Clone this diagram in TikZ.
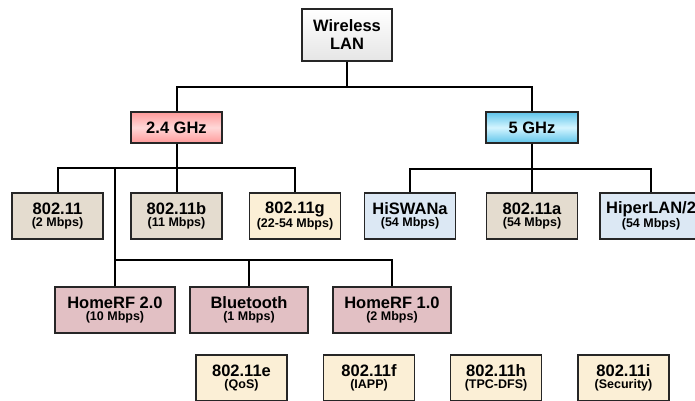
\documentclass[tikz,border=0pt]{standalone}
\usepackage{fontspec}
\setmainfont{Liberation Sans}[BoldFont={Liberation Sans Bold}]

\definecolor{stone}{HTML}{E4DCCF}
\definecolor{cream}{HTML}{FBEFD6}
\definecolor{iceblue}{HTML}{DCE8F4}
\definecolor{mauve}{HTML}{E2C0C4}
\definecolor{rosetop}{HTML}{FF9A9A}
\definecolor{rosemid}{HTML}{FFD8D8}
\definecolor{skytop}{HTML}{5EC4EA}
\definecolor{skymid}{HTML}{D4F5FF}

\newcommand{\stdlabel}[2]{{\fontsize{16.5}{14}\selectfont #1}\\{\fontsize{12.5}{14}\selectfont #2}}

\tikzset{
    std/.style={shape=rectangle, draw=black!85, line width=1.2pt, minimum width=91pt,
        minimum height=46pt, inner sep=0pt, align=center, font=\bfseries},
    band/.style={shape=rectangle, draw=black!85, line width=1.2pt, minimum width=91pt,
        minimum height=31pt, inner sep=0pt, font=\bfseries\fontsize{16.5}{18}\selectfont},
    link/.style={line width=2pt, black},
}

\begin{document}
\begin{tikzpicture}[x=1pt, y=-1pt]
    
    \useasboundingbox (0,0) rectangle (695,400);
    \clip (0,0) rectangle (695,400);
    
    % root and bands
    \node[std, minimum width=90pt, minimum height=52pt, top color=white, bottom color=black!10,
        font=\bfseries\fontsize{16.5}{18}\selectfont] (wlan) at (347,35) {Wireless\\LAN};
    \node[band, top color=rosetop, bottom color=rosetop, middle color=rosemid] (ghz24) at (176.5,127.5) {2.4 GHz};
    \node[band, minimum width=92pt, top color=skytop, bottom color=skytop, middle color=skymid] (ghz5) at (532,127.5) {5 GHz};
    
    % 2.4 GHz standards
    \node[std, fill=stone] (b80211) at (57.5,216) {\stdlabel{802.11}{(2 Mbps)}};
    \node[std, fill=stone] (b80211b) at (176.5,216) {\stdlabel{802.11b}{(11 Mbps)}};
    \node[std, fill=cream] (b80211g) at (295,216) {\stdlabel{802.11g}{(22-54 Mbps)}};
    
    % 5 GHz standards
    \node[std, fill=iceblue] (hiswana) at (410,216) {\stdlabel{HiSWANa}{(54 Mbps)}};
    \node[std, fill=stone] (b80211a) at (532,216) {\stdlabel{802.11a}{(54 Mbps)}};
    \node[std, fill=iceblue, minimum width=102pt] (hiperlan) at (651,216) {\stdlabel{HiperLAN/2}{(54 Mbps)}};
    
    % home and personal networks
    \node[std, fill=mauve, minimum width=120pt] (homerf2) at (115,310) {\stdlabel{HomeRF 2.0}{(10 Mbps)}};
    \node[std, fill=mauve, minimum width=118pt] (bluetooth) at (249,310) {\stdlabel{Bluetooth}{(1 Mbps)}};
    \node[std, fill=mauve, minimum width=118pt] (homerf1) at (392,310) {\stdlabel{HomeRF 1.0}{(2 Mbps)}};
    
    % extensions
    \node[std, fill=cream] (b80211e) at (241.5,378) {\stdlabel{802.11e}{(QoS)}};
    \node[std, fill=cream] (b80211f) at (369,378) {\stdlabel{802.11f}{(IAPP)}};
    \node[std, fill=cream] (b80211h) at (496,378) {\stdlabel{802.11h}{(TPC-DFS)}};
    \node[std, fill=cream] (b80211i) at (623.5,378) {\stdlabel{802.11i}{(Security)}};
    
    \draw[link] (wlan.south) -- ++(0,25) -| (ghz24.north);
    \draw[link] (wlan.south) -- ++(0,25) -| (ghz5.north);
    
    \draw[link] (ghz24.south) -- ++(0,24) -| (b80211.north);
    \draw[link] (ghz24.south) -- (b80211b.north);
    \draw[link] (ghz24.south) -- ++(0,24) -| (b80211g.north);
    \draw[link] (ghz24.south) -- ++(0,24) -| (homerf2.north);
    
    \draw[link] (homerf2.north) -- ++(0,-26) -| (bluetooth.north);
    \draw[link] (homerf2.north) -- ++(0,-26) -| (homerf1.north);
    
    \draw[link] (ghz5.south) -- ++(0,25.5) -| (hiswana.north);
    \draw[link] (ghz5.south) -- (b80211a.north);
    \draw[link] (ghz5.south) -- ++(0,25.5) -| (hiperlan.north);
    
\end{tikzpicture}
\end{document}
